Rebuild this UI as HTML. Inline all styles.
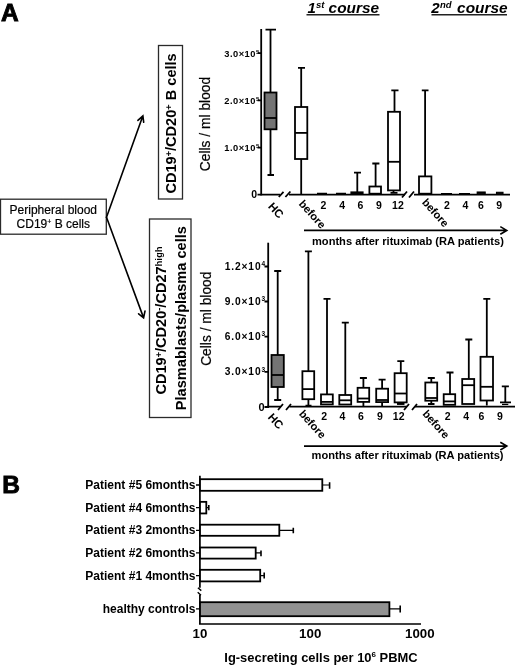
<!DOCTYPE html>
<html><head><meta charset="utf-8">
<style>
html,body{margin:0;padding:0;background:#fff;}
body{width:520px;height:667px;overflow:hidden;}
svg{display:block;filter:grayscale(1);}
text{font-family:"Liberation Sans",sans-serif;}
.b{font-weight:bold;}
</style></head><body>
<svg width="520" height="667" viewBox="0 0 520 667">
<g fill="#000">
<!-- Panel letters -->
<text x="1.1" y="20.5" class="b" font-size="24.5" stroke="#000" stroke-width="0.9">A</text>
<text x="2.3" y="492.7" class="b" font-size="24.5" stroke="#000" stroke-width="0.9">B</text>

<!-- course headers -->
<g class="b" font-style="italic">
<text x="307.6" y="13" font-size="15">1</text>
<text x="316" y="8.2" font-size="9.5">st</text>
<text x="328.6" y="13" font-size="15.4">course</text>
<text x="431.2" y="13" font-size="15">2</text>
<text x="440" y="8.2" font-size="9.5">nd</text>
<text x="457.1" y="13" font-size="15.4">course</text>
</g>
</g>
<g stroke="#222" stroke-width="1.6">
<line x1="306.5" y1="14.8" x2="379.5" y2="14.8"/>
<line x1="431.5" y1="14.8" x2="507" y2="14.8"/>
</g>

<!-- Peripheral blood box -->
<rect x="0.5" y="199.2" width="105.8" height="35" fill="none" stroke="#2a2a2a" stroke-width="1.3"/>
<g font-size="12" text-anchor="middle" stroke="#000" stroke-width="0.2">
<text x="53.3" y="213.7">Peripheral blood</text>
<text x="53.3" y="228.1">CD19<tspan font-size="7" dy="-4">+</tspan><tspan dy="4"> B cells</tspan></text>
</g>

<!-- arrows -->
<g stroke="#000" stroke-width="1.6" fill="none" stroke-linecap="round">
<path d="M106.5 217.3 L142.9 115.8 M137.9 120.4 L142.9 115.8 L143.7 122.3"/>
<path d="M106.5 217.3 L143.6 317.9 M138.6 313.8 L143.6 317.9 L145 311"/>
</g>

<!-- CD19+/CD20+ box -->
<rect x="158.5" y="45.5" width="24" height="153.5" fill="none" stroke="#2a2a2a" stroke-width="1.3"/>
<text transform="translate(176 193.6) rotate(-90)" class="b" font-size="14.6">CD19<tspan font-size="9" dy="-4.3">+</tspan><tspan dy="4.3">/CD20</tspan><tspan font-size="9" dy="-4.3">+</tspan><tspan dy="4.3"> B cells</tspan></text>

<!-- Plasmablast box -->
<rect x="149.5" y="219" width="41.5" height="198.5" fill="none" stroke="#2a2a2a" stroke-width="1.3"/>
<text transform="translate(166 394.6) rotate(-90)" class="b" font-size="14.6">CD19<tspan font-size="9" dy="-4.3">+</tspan><tspan dy="4.3">/CD20</tspan><tspan font-size="9" dy="-4.3">-</tspan><tspan dy="4.3">/CD27</tspan><tspan font-size="9" dy="-3.9" letter-spacing="0.3">high</tspan></text>
<text transform="translate(185.5 410.2) rotate(-90)" class="b" font-size="14.6">Plasmablasts/plasma cells</text>

<!-- ===== Top chart ===== -->
<text transform="translate(209.9 124) rotate(-90)" font-size="13.8" text-anchor="middle" stroke="#000" stroke-width="0.2">Cells / ml blood</text>
<g class="b" font-size="9.3" text-anchor="end" letter-spacing="0.5">
<text x="259.8" y="57">3.0×10<tspan font-size="6" dy="-3.5">5</tspan></text>
<text x="259.8" y="104.2">2.0×10<tspan font-size="6" dy="-3.5">5</tspan></text>
<text x="259.8" y="151.4">1.0×10<tspan font-size="6" dy="-3.5">5</tspan></text>
<text x="257" y="198.4" font-size="10.5" letter-spacing="0">0</text>
</g>
<g stroke="#000" stroke-width="1.8" fill="none">
<line x1="261.2" y1="29" x2="261.2" y2="195.4"/>
<path d="M257.5 53.1H261M257.5 100.3H261M257.5 147.6H261M257.5 194.6H261"/>
<path d="M260.7 194.6H280M289 194.6H405M414 194.6H510"/>
<path d="M278.8 197L283.5 191.9M285.4 197L290.4 191.5M402 197.5L407 191.5M409 197.5L414 191.5"/>
</g>
<!-- boxes top -->
<g stroke="#000" stroke-width="1.8">
<!-- HC -->
<path d="M270.5 29.6V92.5M270.5 129.3V175M265.5 29.6H276M267.5 175H274" fill="none"/>
<rect x="264.5" y="92.5" width="12" height="36.8" fill="#747474"/>
<line x1="264.5" y1="118" x2="276.5" y2="118"/>
<!-- before -->
<path d="M301.2 67.9V107M301.2 159V194M298 67.9H305" fill="none"/>
<rect x="295" y="107" width="12.3" height="52" fill="#fff"/>
<line x1="295" y1="132.9" x2="307.3" y2="132.9"/>
<!-- 2,4 -->
<path d="M317 193.4H327M336 193.4H346" fill="none" stroke-width="1.2"/>
<!-- 6 -->
<path d="M357.3 172.7V192M354 172.7H361" fill="none"/>
<rect x="351" y="192" width="12" height="1.6" fill="#000" stroke-width="1.2"/>
<!-- 9 -->
<path d="M375.6 163.5V186.5M372.3 163.5H379.4" fill="none"/>
<rect x="369.4" y="186.5" width="11.6" height="7.2" fill="#fff"/>
<!-- 12 -->
<path d="M394.5 90.4V111.8M391.3 90.4H398.5M393.5 190V193.5M390.5 192.8H397.5" fill="none"/>
<rect x="388" y="111.8" width="12" height="78.6" fill="#fff"/>
<line x1="388" y1="161.8" x2="400" y2="161.8"/>
<!-- 2nd before -->
<path d="M425.1 90.4V176.4M421.8 90.4H428.5" fill="none"/>
<rect x="419" y="176.4" width="12.4" height="17.3" fill="#fff"/>
<!-- 2nd 2,4,6,9 -->
<path d="M441 193.6H452M459 193.6H470" fill="none" stroke-width="1.1"/>
<rect x="477.2" y="192" width="8" height="1.8" fill="#000" stroke-width="1.1"/>
<rect x="496.5" y="192.3" width="6.5" height="1.5" fill="#000" stroke-width="1.1"/>
</g>
<g class="b" font-size="11">
<text transform="translate(267.4 207) rotate(47)" font-size="11.5">HC</text>
<text transform="translate(298.3 204.2) rotate(48)">before</text>
<text transform="translate(421.4 202.8) rotate(48)">before</text>
</g>
<g class="b" font-size="10.5" text-anchor="middle">
<text x="323.4" y="208.6">2</text>
<text x="342.2" y="208.6">4</text>
<text x="360.3" y="208.6">6</text>
<text x="378.8" y="208.6">9</text>
<text x="397.9" y="208.6">12</text>
<text x="446.9" y="208.6">2</text>
<text x="465.4" y="208.6">4</text>
<text x="480.8" y="208.6">6</text>
<text x="499.2" y="208.6">9</text>
</g>
<g stroke="#000" stroke-width="1.6" fill="none">
<path d="M304 230.4H506.3M500.3 226.6L506.8 230.4L500.3 234.3"/>
</g>
<text x="312" y="244.5" class="b" font-size="11.1">months after rituximab (RA patients)</text>

<!-- ===== Bottom chart ===== -->
<text transform="translate(210.6 318.7) rotate(-90)" font-size="13.8" text-anchor="middle" stroke="#000" stroke-width="0.2">Cells / ml blood</text>
<g class="b" font-size="10.2" text-anchor="end" letter-spacing="0.9">
<text x="266" y="269.8">1.2×10<tspan font-size="6.5" dy="-3.6">4</tspan></text>
<text x="266" y="304.9">9.0×10<tspan font-size="6.5" dy="-3.6">3</tspan></text>
<text x="266" y="340">6.0×10<tspan font-size="6.5" dy="-3.6">3</tspan></text>
<text x="266" y="375.1">3.0×10<tspan font-size="6.5" dy="-3.6">3</tspan></text>
<text x="264.5" y="410.6" font-size="11" letter-spacing="0">0</text>
</g>
<g stroke="#000" stroke-width="1.8" fill="none">
<line x1="268.2" y1="242.7" x2="268.2" y2="408"/>
<path d="M264.5 266.5H268.2M264.5 301.5H268.2M264.5 336.6H268.2M264.5 371.8H268.2M264.5 407H268.2"/>
<path d="M267 406.6H281M289.5 406.6H407M415 406.6H515"/>
<path d="M278 410L283 404M286 410L291 404M404 410L409 404M412 410L417 404"/>
</g>
<g stroke="#000" stroke-width="1.8">
<!-- HC -->
<path d="M277.7 271V355M277.7 387V400M274.2 271H281.2M274.2 400H281.2" fill="none"/>
<rect x="271.5" y="355" width="12.3" height="32" fill="#747474"/>
<line x1="271.5" y1="375" x2="283.8" y2="375"/>
<!-- before -->
<path d="M308.4 251.3V371.2M308.4 399.2V406M304.9 251.3H311.9M305.5 405.6H311.5" fill="none"/>
<rect x="302.4" y="371.2" width="11.8" height="28" fill="#fff"/>
<line x1="302.4" y1="389.1" x2="314.2" y2="389.1"/>
<!-- 2 -->
<path d="M327 298.8V394.4M323.5 298.8H330.5" fill="none"/>
<rect x="321" y="394.4" width="11.8" height="10" fill="#fff"/>
<line x1="321" y1="401.9" x2="332.8" y2="401.9"/>
<!-- 4 -->
<path d="M345.3 322.7V395M341.8 322.7H348.8" fill="none"/>
<rect x="339.3" y="395" width="11.9" height="9.5" fill="#fff"/>
<line x1="339.3" y1="400.3" x2="351.2" y2="400.3"/>
<!-- 6 -->
<path d="M363.4 378V387.8M359.9 378H366.9M363.4 401.9V406" fill="none"/>
<rect x="357.6" y="387.8" width="11.6" height="14.1" fill="#fff"/>
<line x1="357.6" y1="398.5" x2="369.2" y2="398.5"/>
<!-- 9 -->
<path d="M382.1 379.7V388.7M378.6 379.7H385.6M382.1 402V406" fill="none"/>
<rect x="376.2" y="388.7" width="11.9" height="13.4" fill="#fff"/>
<line x1="376.2" y1="400" x2="388.1" y2="400"/>
<!-- 12 -->
<path d="M400.8 361.2V373.2M397.3 361.2H404.3" fill="none"/>
<rect x="394.6" y="373.2" width="12.1" height="29.2" fill="#fff"/>
<line x1="394.6" y1="393.5" x2="406.7" y2="393.5"/>
<rect x="397.5" y="402.6" width="6.5" height="1.8" fill="#000" stroke-width="1"/>
<!-- 2nd before -->
<path d="M431.3 378V382.5M427.8 378H434.8M431.3 400.7V404.1M428 404H434.5" fill="none"/>
<rect x="425.3" y="382.5" width="11.9" height="18.2" fill="#fff"/>
<line x1="425.5" y1="398" x2="437.5" y2="398"/>
<!-- 2nd 2 -->
<path d="M450 372.5V394.3M446.5 372.5H453.5" fill="none"/>
<rect x="443.7" y="394.2" width="11.5" height="10.6" fill="#fff"/>
<line x1="443.7" y1="401.4" x2="455.2" y2="401.4"/>
<!-- 2nd 4 -->
<path d="M468.8 339.5V378.8M465.3 339.5H472.3" fill="none"/>
<rect x="462.2" y="379" width="12" height="25" fill="#fff"/>
<line x1="462.2" y1="385.2" x2="474.2" y2="385.2"/>
<!-- 2nd 6 -->
<path d="M486.8 298.8V356.8M483.3 298.8H490.3M486.8 400.5V405.5" fill="none"/>
<rect x="480.5" y="356.8" width="12.5" height="43.7" fill="#fff"/>
<line x1="480.5" y1="386.8" x2="493" y2="386.8"/>
<!-- 2nd 9 -->
<path d="M505.3 386.3V402.5M501.8 386.3H508.9M500 402.4H511" fill="none"/>
<path d="M502 404.4H508.3" fill="none" stroke-width="1.3"/>
</g>
<g class="b" font-size="11">
<text transform="translate(267.2 417.8) rotate(47)" font-size="11.5">HC</text>
<text transform="translate(298.5 414.3) rotate(48)">before</text>
<text transform="translate(422 414.2) rotate(48)">before</text>
</g>
<g class="b" font-size="10.5" text-anchor="middle">
<text x="324.1" y="419.8">2</text>
<text x="342.4" y="419.8">4</text>
<text x="360.9" y="419.8">6</text>
<text x="379.9" y="419.8">9</text>
<text x="398.7" y="419.8">12</text>
<text x="447.7" y="419.8">2</text>
<text x="466.1" y="419.8">4</text>
<text x="481.5" y="419.8">6</text>
<text x="500" y="419.8">9</text>
</g>
<g stroke="#000" stroke-width="1.6" fill="none">
<path d="M304 446.1H506.3M500.3 442.3L506.8 446.1L500.3 450"/>
</g>
<text x="311.6" y="458.8" class="b" font-size="11.1">months after rituximab (RA patients)</text>

<!-- ===== Panel B ===== -->
<g class="b" font-size="12" text-anchor="end">
<text x="195.4" y="489.1">Patient #5 6months</text>
<text x="195.4" y="511.7">Patient #4 6months</text>
<text x="195.4" y="534.4">Patient #3 2months</text>
<text x="195.4" y="557">Patient #2 6months</text>
<text x="195.4" y="579.6">Patient #1 4months</text>
<text x="195.4" y="612.9">healthy controls</text>
</g>
<g stroke="#000" stroke-width="1.7" fill="none">
<path d="M199.9 475.8V587.8M199.9 594.8V624.8M199 624H421"/>
<path d="M197.9 587.7L201.3 590.6M197.7 592.3L201 595.2" stroke-width="1.4"/>
</g>
<g stroke="#000" stroke-width="1.3" fill="none">
<path d="M196 485H199.5M196 507.65H199.5M196 530.3H199.5M196 552.95H199.5M196 575.6H199.5M196 608.85H199.5"/>
</g>
<g stroke="#000" stroke-width="1.8">
<rect x="200" y="479.2" width="122.3" height="11.6" fill="#fff"/>
<rect x="200" y="501.85" width="6.3" height="11.6" fill="#fff"/>
<rect x="200" y="524.7" width="79.3" height="11.1" fill="#fff"/>
<rect x="200" y="547.5" width="55.7" height="11.1" fill="#fff"/>
<rect x="200" y="569.8" width="60.2" height="11.6" fill="#fff"/>
<rect x="200" y="602.2" width="189.4" height="14" fill="#929292"/>
</g>
<g stroke="#000" stroke-width="1.2" fill="none">
<path d="M322.3 485H329.6M206.3 507.65H208.8M279.3 530.3H293.3M255.7 552.95H261M260.2 575.6H264.2M389.4 608.85H400.2"/>
</g>
<g stroke="#000" stroke-width="1.6" fill="none">
<path d="M329.6 482.3V488.8M208.8 505V510.3M293.3 527.8V533.3M261 550.4V556.2M264.2 572.6V578.6M400.2 605.4V612.4"/>
</g>
<g class="b" font-size="13.3" text-anchor="middle">
<text x="200" y="637.7">10</text>
<text x="310.2" y="637.7">100</text>
<text x="419.8" y="637.7">1000</text>
</g>
<text x="224.3" y="662" class="b" font-size="12.93">Ig-secreting cells per 10<tspan font-size="8" dy="-5">6</tspan><tspan dy="5"> PBMC</tspan></text>
</svg>
</body></html>
